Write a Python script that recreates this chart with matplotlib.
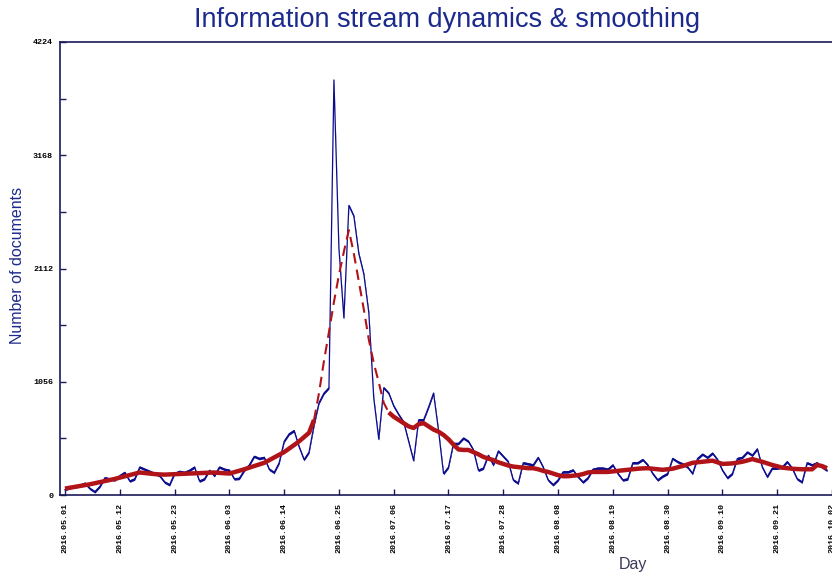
import matplotlib
matplotlib.use("Agg")
import matplotlib.pyplot as plt
import numpy as np

# ---- data ----
days = list(range(0, 154))
documents = [
    50, 70, 75, 90, 110, 60, 30, 80, 160, 150,
    140, 180, 210, 130, 150, 260, 240, 220, 200, 180,
    120, 95, 200, 220, 210, 230, 260, 130, 150, 230,
    180, 260, 240, 230, 150, 155, 230, 280, 360, 340,
    350, 240, 210, 300, 500, 570, 600, 450, 330, 400,
    650, 860, 950, 1000, 3870, 2300, 1650, 2700, 2600, 2250,
    2060, 1700, 900, 520, 1000, 950, 830, 750, 680, 500,
    320, 700, 700, 820, 950, 600, 200, 260, 480, 480,
    530, 500, 420, 230, 250, 370, 280, 410, 360, 310,
    140, 110, 300, 290, 280, 350, 260, 140, 95, 140,
    215, 215, 233, 170, 120, 160, 240, 250, 250, 240,
    280, 200, 140, 150, 300, 300, 330, 280, 200, 140,
    175, 200, 340, 310, 290, 260, 200, 340, 380, 350,
    390, 330, 230, 160, 200, 340, 350, 400, 370, 430,
    260, 170, 250, 250, 260, 310, 250, 150, 120, 300,
    280, 300, 260, 230,
]
smoothed = [
    60, 68, 76, 84, 92, 100, 110, 120, 130, 140,
    150, 162, 174, 186, 198, 210, 205, 200, 195, 192,
    190, 192, 194, 196, 198, 200, 202, 204, 206, 208,
    210, 206, 203, 200, 213, 226, 240, 255, 270, 285,
    300, 325, 350, 375, 400, 433, 466, 500, 540, 580,
    700, 950, 1250, 1520, 1800, 2050, 2270, 2470, 2250, 1990,
    1730, 1450, 1230, 1050, 860, 770, 730, 700, 670, 640,
    625, 660, 670, 640, 610, 590, 560, 520, 470, 425,
    420, 420, 400, 380, 355, 340, 325, 305, 290, 275,
    265, 260, 255, 250, 250, 240, 225, 215, 200, 185,
    175, 175, 180, 185, 195, 210, 215, 215, 215, 215,
    220, 225, 230, 235, 240, 245, 248, 250, 245, 240,
    235, 240, 245, 258, 270, 285, 300, 305, 310, 315,
    320, 305, 290, 292, 295, 302, 310, 322, 335, 322,
    310, 295, 280, 268, 255, 250, 245, 242, 240, 240,
    240, 280, 270, 250,
]
dash_start, dash_end = 50, 65
tick_days = [0, 11, 22, 33, 44, 55, 66, 77, 88, 99, 110, 121, 132, 143, 154]
tick_labels = ["2016.05.01", "2016.05.12", "2016.05.23", "2016.06.03", "2016.06.14",
               "2016.06.25", "2016.07.06", "2016.07.17", "2016.07.28", "2016.08.08",
               "2016.08.19", "2016.08.30", "2016.09.10", "2016.09.21", "2016.10.02"]
y_major = [0, 1056, 2112, 3168, 4224]
y_major_labels = ["0", "1056", "2112", "3168", "4224"]
y_minor = [528, 1584, 2640, 3696]

title = "Information stream dynamics & smoothing"
ylabel = "Number of documents"
xlabel = "Day"

# ---- drawing ----
W, H = 832, 576
fig = plt.figure(figsize=(W / 100, H / 100), dpi=100)
ax = fig.add_axes([60 / W, 1 - 495 / H, 1 - 60 / W, (495 - 42) / H])

blue = "#0c0c8e"
red = "#b01418"
spine_col = "#1a1a5a"

ax.set_xlim(-1, 152.5)
ax.set_ylim(0, 4224)

# units per pixel vertically, for a pen that is thick vertically (as in the reference)
upp = 4224 / (495 - 42)
d = np.array(days, dtype=float)
v = np.array(documents, dtype=float)
s = np.array(smoothed, dtype=float)

ax.fill_between(d, v - 1.3 * upp, v + 1.3 * upp, color=blue, lw=0, zorder=2)
ax.plot(d, v, color=blue, lw=0.9, zorder=2)

ax.plot(d[:dash_start + 1], s[:dash_start + 1], color=red, lw=3.2,
        solid_capstyle="butt", zorder=3)
ax.plot(d[dash_start:dash_end + 1], s[dash_start:dash_end + 1], color=red, lw=1.5,
        dashes=(5, 3), zorder=3)
ax.plot(d[dash_end:], s[dash_end:], color=red, lw=3.2, solid_capstyle="butt", zorder=3)

ax.set_xticks(tick_days)
ax.set_xticklabels(tick_labels, rotation=90, family="Liberation Mono",
                   fontweight="bold", fontsize=6)
ax.set_yticks(y_major)
ax.set_yticklabels(y_major_labels, family="Liberation Mono", fontweight="bold", fontsize=6)
ax.set_yticks(y_minor, minor=True)
ax.tick_params(axis="both", which="both", direction="in", length=4, width=1,
               color=spine_col, pad=5)
ax.tick_params(axis="x", pad=6)

for side in ("left", "bottom", "top"):
    ax.spines[side].set_color(spine_col)
    ax.spines[side].set_linewidth(1.2)
ax.spines["right"].set_visible(False)

fig.text(447 / W, 1 - 20 / H, title, ha="center", va="center",
         family="Liberation Sans", fontsize=19.5, color="#1c2a8c")
fig.text(18 / W, 1 - 265 / H, ylabel, ha="center", va="center", rotation=90,
         family="Liberation Sans", fontsize=11.5, color="#1c2a8c")
fig.text(633 / W, 1 - 565 / H, xlabel, ha="center", va="center",
         family="Liberation Sans", fontsize=11.5, color="#3a3a5a")

fig.savefig("out.png", dpi=100)
